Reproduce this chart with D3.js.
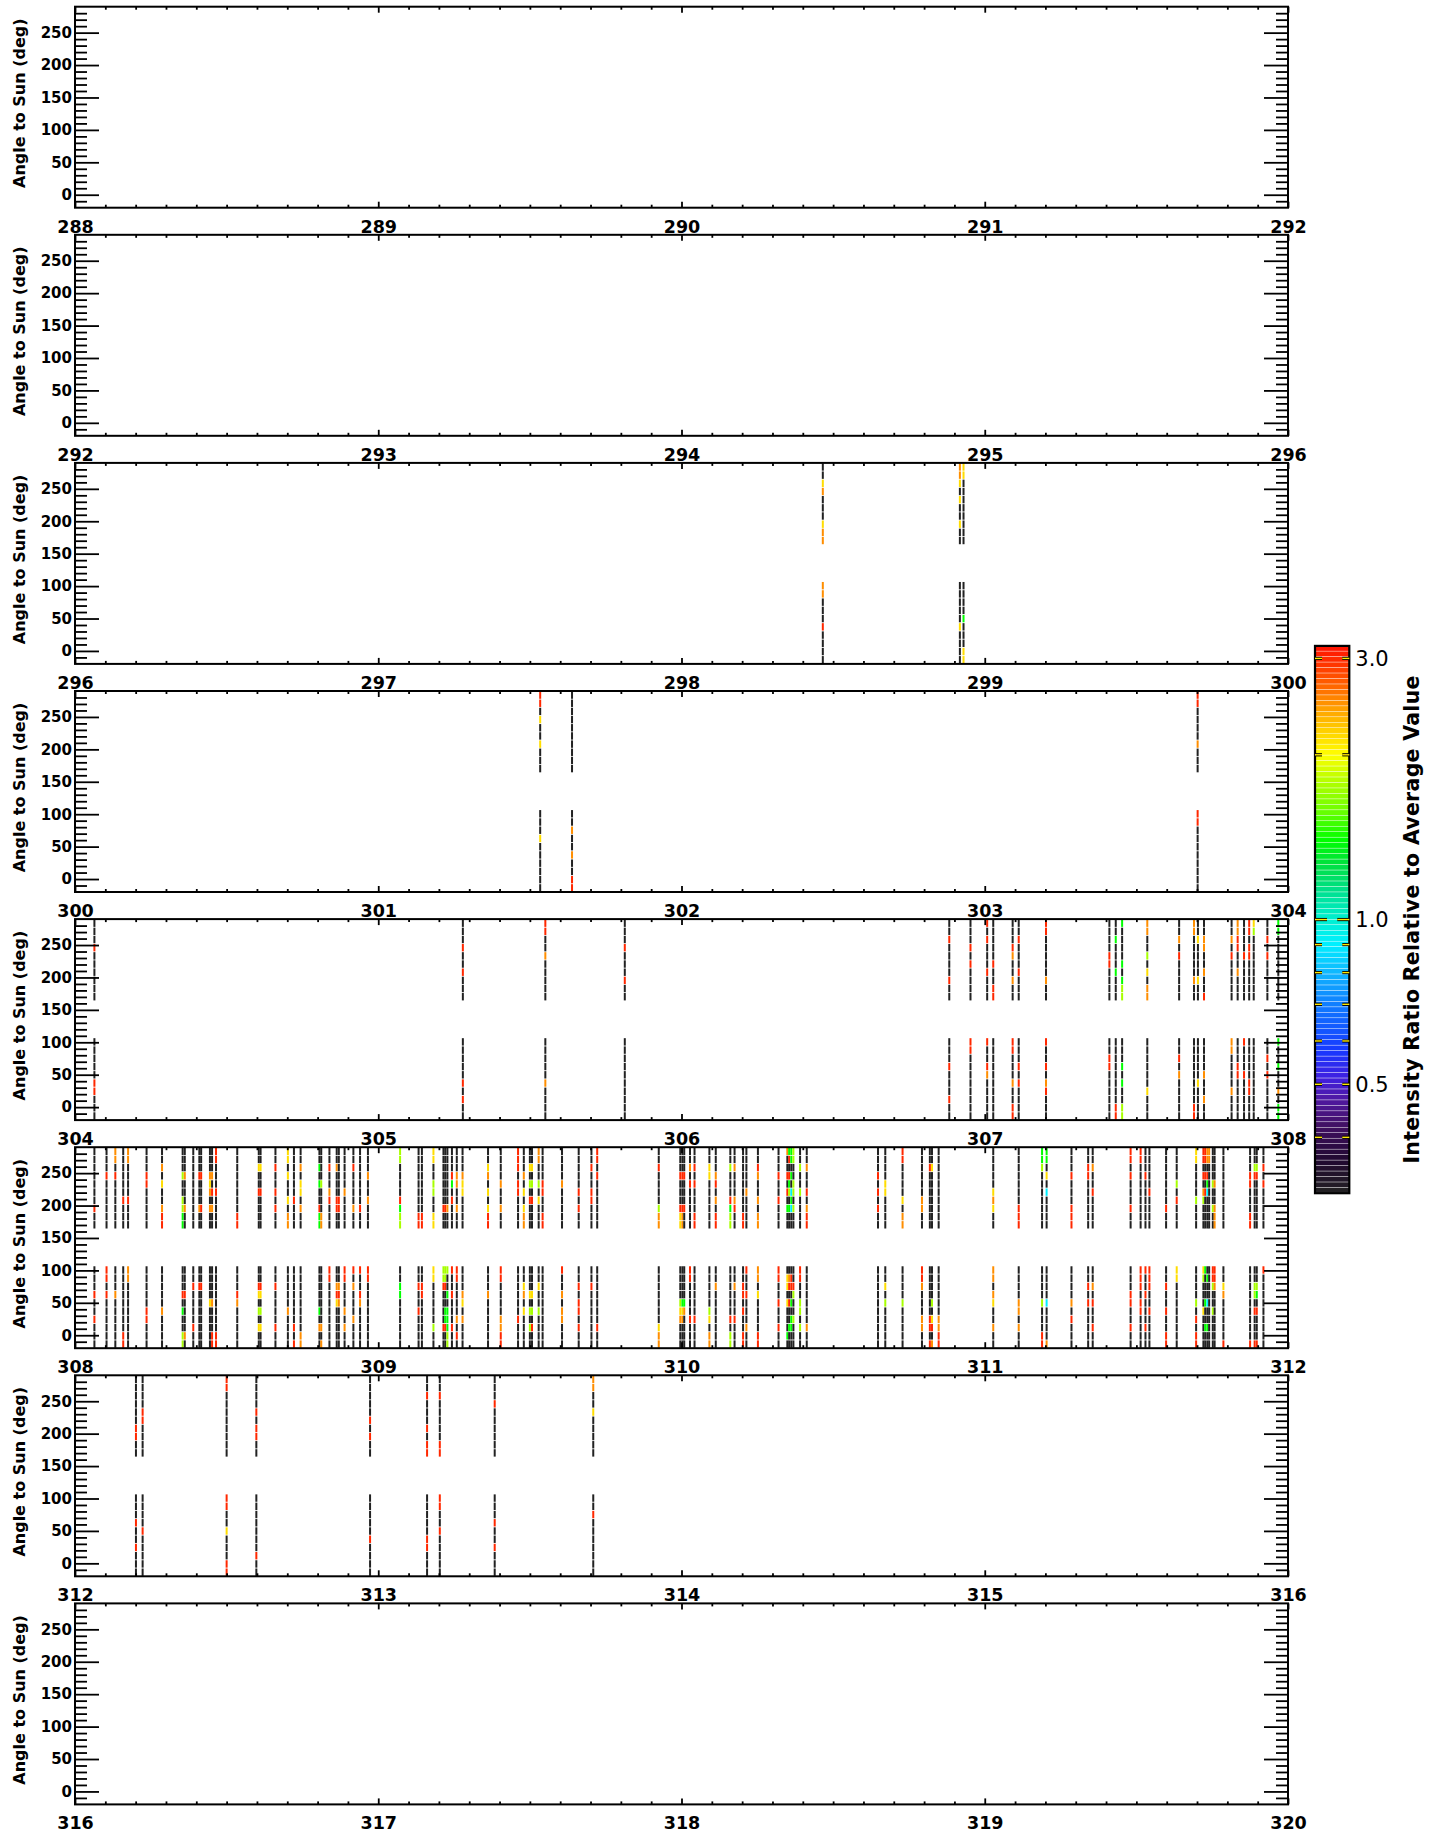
<!DOCTYPE html>
<html>
<head>
<meta charset="utf-8">
<script src="https://cdn.jsdelivr.net/npm/d3@7"></script>
<style>
  body { margin: 0; background: #fff; }
  svg { display: block; }
  .axis text { font-family: "DejaVu Sans", sans-serif; font-weight: bold; fill: #000; }
  .axis line { stroke: #000; stroke-width: 1.8; }
</style>
</head>
<body>
<div id="chart"></div>
<script>
// Global const
const W = 1444, H = 1834;
const plotLeft = 75, plotRight = 1288;
const firstTop = 6.7, panelStep = 228.1, panelH = 201;
const plotW = plotRight - plotLeft;

// day of year at the left edge of each panel (4 days per panel)
const panelStarts = [288, 292, 296, 300, 304, 308, 312, 316];
const angleDomain = [-20, 290];
const angleTicks = [0, 50, 100, 150, 200, 250];

// angle bins (deg), listed top to bottom in each block
const upperAngles = [283.7, 271.1, 258.5, 245.9, 233.3, 220.7, 208.1, 195.5, 182.9, 170.3];
const lowerAngles = [100.65, 87.95, 75.25, 62.55, 49.85, 37.15, 24.45, 11.75, -0.95, -13.65];
const angleStep = 12.65;

// intensity ratio of each cell code ("." = below scale)
const levelValues = {".": 0.25, c: 0.9, g: 1.4, l: 1.75, y: 2.15, o: 2.5, r: 3.0};

// colour bar
const barRange = [Math.pow(10, -0.5), Math.pow(10, 0.5)];
const barTickValues = [3.0, 2.0, 1.0, 0.9, 0.8, 0.7, 0.6, 0.5, 0.4];
const barLabelValues = [3.0, 1.0, 0.5];

// stripes: [day, upper block cells top->bottom, lower block cells top->bottom]
const stripes296 = [
  [298.466, "..yo...yoo", "oo...r...."],
  [298.918, "ooy.y..y..", ".....y...."],
  [298.930, "yy........", "....g...yy"]
];

const stripes300 = [
  [301.534, "rr.y..y...", "...y......"],
  [301.639, "..........", "..o..o..rr"],
  [303.702, "rr....o...", "rr........"]
];

const stripes304 = [
  [304.064, "...r......", ".....rr..."],
  [305.279, "...r..r...", ".....r.r.."],
  [305.551, "rr..o.....", ".....o...."],
  [305.813, "...r...r..", ".........."],
  [306.883, "..r....r..", "...r...r.."],
  [306.953, "...r.r....", "rr........"],
  [307.008, "r.r...r...", "r..ro....."],
  [307.028, ".....r..rr", ".........."],
  [307.092, "...ro..o..", "rr...o..rr"],
  [307.112, "..r...r...", "...r.r...."],
  [307.202, "rr.....o..", "r..r.or..."],
  [307.411, "....rr....", "..rr......"],
  [307.432, "..g...g...", "........rr"],
  [307.453, "g....g.gll", "...g.g..ll"],
  [307.536, "oo..l.y.oo", "......y..."],
  [307.641, "..o.r.....", "..r.o....."],
  [307.690, "oo.....o..", "........rr"],
  [307.703, "..y....y..", ".....y...."],
  [307.723, "..oo..o..r", "....o..o.."],
  [307.814, "..o.r.....", "oo....o..."],
  [307.834, "oorr..o...", "...rr....."],
  [307.855, "....r.....", "r...r....."],
  [307.872, "rr.rr.....", ".....rr..."],
  [307.887, "yl........", ".........."],
  [307.932, "..r.r.....", "..r.r....."],
  [307.968, "gg........", "g..g..o.gg"]
];

const stripes308 = [
  [308.000, "..l..l....", "rrl..glr.."],
  [308.064, ".......r..", "...r..r..."],
  [308.104, "...r......", "rr.r......"],
  [308.133, "oo.r......", "...o......"],
  [308.159, "......r...", "........rr"],
  [308.175, "oo....r...", "oo........"],
  [308.236, "...rr.....", ".....rr..."],
  [308.287, "..o.y..orr", ".....o...."],
  [308.355, "...l..llgg", "...r.g..ll"],
  [308.362, "...o...o..", "...r....o."],
  [308.390, "..........", "..r....r.."],
  [308.410, "...r...o..", "..r......."],
  [308.416, "...r...r..", "..r......."],
  [308.445, "...oyo.o..", "....y....."],
  [308.452, "...o.r.o..", "....o...rr"],
  [308.465, "rr...r....", "........rr"],
  [308.535, "........rr", "...ro....."],
  [308.606, "..y..r....", "..ry.l.y.."],
  [308.612, "..y..r....", "..ry.l.y.."],
  [308.661, "..r..r.r..", "..r....r.."],
  [308.702, "yy.y..y.oo", ".....o...."],
  [308.722, "......r...", ".......r.r"],
  [308.744, "..o.yy.o..", "........oo"],
  [308.806, "..g.g..rgg", ".....g.o.."],
  [308.812, "....l...oo", ".......o.o"],
  [308.839, "..r..or...", "rr........"],
  [308.863, "..o...rr..", "..ory....."],
  [308.870, "......rr..", "..oro....."],
  [308.889, ".....o....", "rr...o.o.."],
  [308.918, "..r....o..", "r.o...o..."],
  [308.940, ".......r..", "r..ro....."],
  [308.966, "...o..o...", "rr........"],
  [309.072, "ll....rgll", "..gg......"],
  [309.133, "........rr", "..r..r...."],
  [309.144, "........rr", "..rr......"],
  [309.182, "yy..ll..yy", "yy.....l.."],
  [309.215, ".......r..", "llr....r.."],
  [309.221, ".......r..", "llr..ggr.."],
  [309.228, ".......o..", "l..g.gggll"],
  [309.243, "...rg.r...", "r..r...r.."],
  [309.259, "...oo..o..", "rr....o.r."],
  [309.278, "...oyy....", "...oy.o..."],
  [309.362, "..yo.y.yrr", "...o......"],
  [309.404, "....o..o..", "rr....oorr"],
  [309.461, "rrr.rr....", "......r..."],
  [309.480, "...o.y.yoo", "..yo.y...."],
  [309.500, "..y.l.r...", "...y.l.l.."],
  [309.507, "..y.l.r...", "...y.l.r.."],
  [309.529, "oo..l.y...", "..y..l...."],
  [309.542, "....rr..rr", ".........."],
  [309.606, "....o.....", "r..o.oo..."],
  [309.661, ".....r.r..", "..r.rr.r.."],
  [309.703, "..r..rr...", "..r......."],
  [309.722, "rr.r......", ".......r.."],
  [309.925, "..r....loo", ".......yoo"],
  [309.996, "...r...ryy", "....lyo..."],
  [310.003, "...r...roo", "....gyo..."],
  [310.009, "...r...r..", "....go...."],
  [310.028, "..o.r.....", "rr....r..."],
  [310.043, "..r.r...rr", "......r..."],
  [310.092, "..yy......", ".....ly.oo"],
  [310.113, "...or.o.rr", "..o......."],
  [310.161, "..l...rgll", "......r.ll"],
  [310.175, "..o...or..", "..o...r..."],
  [310.203, "........rr", "..rr.r..rr"],
  [310.214, ".....o....", "r..r...o.."],
  [310.252, "..ro..o.oo", "oo.y....rr"],
  [310.320, "...r..r...", "rr..r..r.."],
  [310.349, "o..r.r.g..", ".yy.y...g."],
  [310.355, "gr.rgl.g..", ".or.r..g.."],
  [310.362, "gg.g.cgc..", ".rr.g.gg.."],
  [310.369, "ll..ll.l..", "..rl..l..."],
  [310.391, "..l..l....", "rr..ll.l.."],
  [310.413, "..o..r.orr", ".......o.."],
  [310.648, "...r.r.r..", ".........."],
  [310.672, "....yy....", "..y.l....."],
  [310.729, "rr....y.oo", "....l....."],
  [310.793, "......oo..", "rro...oo.."],
  [310.819, "..r.......", "......rr.r"],
  [310.826, "..y.......", "....l.yr.o"],
  [310.848, "..........", "......oorr"],
  [311.028, ".....yoy..", "oo.oy..o.."],
  [311.112, ".......rrr", "....oo.o.."],
  [311.189, "ggl.......", "....l...rr"],
  [311.204, "gg.y.c....", "....c....o"],
  [311.286, "...r...rrr", "....o.r..."],
  [311.341, "..rr......", "..r.r....."],
  [311.356, "..o..r....", "..o.r..r.."],
  [311.481, "rr.r...r..", "...rr..r.."],
  [311.514, "rr........", "rrr.rr...."],
  [311.530, "...r......", "r..r...r.."],
  [311.543, ".....r....", "rrr..r...."],
  [311.598, ".......r..", "..r..r..rr"],
  [311.633, "....l.r...", "yy........"],
  [311.697, "yy....l...", "....l.r.rr"],
  [311.721, "rr.r.ol...", "yl...y...."],
  [311.727, "rr.r.r....", "g...g..g.."],
  [311.734, "oo.rgc....", ".g..c..g.."],
  [311.740, "oo........", ".........."],
  [311.752, "....l..l..", "rrl..l...."],
  [311.758, "....o..ooo", "rro......."],
  [311.787, "..........", "..yo.....r"],
  [311.875, "...rr...rr", ".........r"],
  [311.890, "..lr......", "..ll.r...r"],
  [311.897, "..lr......", "..lg.r...r"],
  [311.919, "..r.r.....", "r........."]
];

const stripes312 = [
  [312.201, "......rr..", "...r..r..."],
  [312.223, "....rr....", "....r....."],
  [312.500, "rr........", "rr..y...rr"],
  [312.598, "....r.rr..", ".......r.."],
  [312.973, ".....r.r..", ".....r...."],
  [313.161, "..r...r.rr", ".....rr..."],
  [313.203, "..r.....rr", "rr..r....."],
  [313.384, "...r......", "...r..r..."],
  [313.709, "oo..y.....", "..r......."]
];

const stripesByPanel = [[], [], stripes296, stripes300, stripes304, stripes308, stripes312, []];

// Rainbow colour table (black -> purple -> blue -> cyan -> green -> yellow -> red)
const rainbowStops = [0, 0.06, 0.12, 0.17, 0.21, 0.26, 0.33, 0.40, 0.455, 0.50, 0.55, 0.60, 0.645, 0.70, 0.75, 0.80, 0.845, 0.885, 0.93, 0.97, 1];
const rainbowColors = ["#222222", "#200830", "#401060", "#5018a0", "#4020e0", "#1838ff", "#1070ff", "#10b4ff", "#00f0ff", "#00f0d0",
                       "#00e090", "#00e040", "#00ff00", "#70ff00", "#b0ff00", "#ffff00", "#ffd000", "#ffa000", "#ff6000", "#ff3000", "#ff1000"];
const rainbow = d3.scaleLinear().domain(rainbowStops).range(rainbowColors).clamp(true);
const color = d3.scaleSequentialLog(rainbow).domain(barRange).clamp(true);

const svg = d3.select("#chart")
  .append("svg")
    .attr("width", W)
    .attr("height", H);

// Draw one panel
function draw_panel(i) {
  const start = panelStarts[i];
  const top = firstTop + i * panelStep;

  const x = d3.scaleLinear().domain([start, start + 4]).range([0, plotW]);
  const y = d3.scaleLinear().domain(angleDomain).range([panelH, 0]);

  const g = svg.append("g")
    .attr("transform", "translate(" + plotLeft + "," + top + ")");

  g.append("clipPath")
    .attr("id", "clip" + i)
    .append("rect")
      .attr("width", plotW)
      .attr("height", panelH);

  // cells of each stripe
  const cells = [];
  stripesByPanel[i].forEach(function(s) {
    for (let k = 0; k < 10; k++) {
      cells.push({day: s[0], angle: upperAngles[k], v: levelValues[s[1][k]]});
      cells.push({day: s[0], angle: lowerAngles[k], v: levelValues[s[2][k]]});
    }
  });

  g.append("g")
    .attr("clip-path", "url(#clip" + i + ")")
    .selectAll("rect")
    .data(cells)
    .enter()
    .append("rect")
      .attr("x", (d) => x(d.day) - 1)
      .attr("width", 2)
      .attr("y", (d) => y(d.angle + angleStep / 2) + 0.4)
      .attr("height", (d) => y(d.angle - angleStep / 2) - y(d.angle + angleStep / 2) - 0.8)
      .style("fill", (d) => color(d.v));

  const majorX = d3.range(start, start + 4.001, 1);
  const minorX = d3.range(1, 40).map((k) => start + k / 10).filter((v, k) => (k + 1) % 10 !== 0);
  const minorY = d3.range(-10, 290, 10).filter((v) => v % 50 !== 0);

  // bottom axis with labels
  g.append("g")
    .attr("class", "axis")
    .attr("transform", "translate(0," + panelH + ")")
    .call(d3.axisBottom(x).tickValues(majorX).tickSize(-6).tickSizeOuter(0).tickPadding(12.6).tickFormat(d3.format("d")))
    .call((a) => a.select(".domain").remove())
    .selectAll("text")
      .attr("font-family", "Liberation Sans, Arial, sans-serif")
      .attr("font-size", 17.5);

  g.append("g")
    .attr("class", "axis")
    .attr("transform", "translate(0," + panelH + ")")
    .call(d3.axisBottom(x).tickValues(minorX).tickSize(-3).tickSizeOuter(0).tickFormat(""))
    .call((a) => a.select(".domain").remove());

  // top axis
  g.append("g")
    .attr("class", "axis")
    .call(d3.axisTop(x).tickValues(majorX).tickSize(-6).tickSizeOuter(0).tickFormat(""))
    .call((a) => a.select(".domain").remove());

  g.append("g")
    .attr("class", "axis")
    .call(d3.axisTop(x).tickValues(minorX).tickSize(-3).tickSizeOuter(0).tickFormat(""))
    .call((a) => a.select(".domain").remove());

  // left axis with labels
  g.append("g")
    .attr("class", "axis")
    .call(d3.axisLeft(y).tickValues(angleTicks).tickSize(-24).tickSizeOuter(0).tickPadding(3).tickFormat(d3.format("d")))
    .call((a) => a.select(".domain").remove())
    .selectAll("text")
      .attr("font-size", 15);

  g.append("g")
    .attr("class", "axis")
    .call(d3.axisLeft(y).tickValues(minorY).tickSize(-12).tickSizeOuter(0).tickFormat(""))
    .call((a) => a.select(".domain").remove());

  // right axis
  g.append("g")
    .attr("class", "axis")
    .attr("transform", "translate(" + plotW + ",0)")
    .call(d3.axisRight(y).tickValues(angleTicks).tickSize(-24).tickSizeOuter(0).tickFormat(""))
    .call((a) => a.select(".domain").remove());

  g.append("g")
    .attr("class", "axis")
    .attr("transform", "translate(" + plotW + ",0)")
    .call(d3.axisRight(y).tickValues(minorY).tickSize(-12).tickSizeOuter(0).tickFormat(""))
    .call((a) => a.select(".domain").remove());

  // frame
  g.append("rect")
    .attr("width", plotW)
    .attr("height", panelH)
    .style("fill", "none")
    .style("stroke", "#000")
    .style("stroke-width", 2);

  // Y axis legend
  svg.append("text")
    .attr("transform", "translate(25," + (top + panelH / 2 - 4) + ")rotate(-90)")
    .attr("text-anchor", "middle")
    .attr("font-family", "DejaVu Sans, sans-serif")
    .attr("font-weight", "bold")
    .attr("font-size", 16)
    .text("Angle to Sun (deg)");
}

// Draw function for the colour bar
function draw_colorbar() {
  const bx = 1315, bw = 34.3, btop = 645.9, bbottom = 1193.2;
  const yb = d3.scaleLog().domain(barRange).range([bbottom, btop]);

  const bands = d3.range(0, 100).map((k) => Math.pow(10, -0.5 + k / 100));
  svg.append("g")
    .selectAll("rect")
    .data(bands)
    .enter()
    .append("rect")
      .attr("x", bx)
      .attr("width", bw)
      .attr("y", (d) => yb(d * Math.pow(10, 0.01)))
      .attr("height", (d) => yb(d) - yb(d * Math.pow(10, 0.01)) - 0.5)
      .style("fill", (d) => color(d * Math.pow(10, 0.005)));

  svg.append("rect")
    .attr("x", bx)
    .attr("y", btop)
    .attr("width", bw)
    .attr("height", bbottom - btop)
    .style("fill", "none")
    .style("stroke", "#000")
    .style("stroke-width", 2.2);

  // tick marks on both sides
  const ticks = svg.append("g");
  barTickValues.forEach(function(v) {
    const len = v === 1.0 ? 12 : 7;
    [[bx, bx + len], [bx + bw, bx + bw - len]].forEach(function(p) {
      ticks.append("line")
        .attr("x1", p[0]).attr("x2", p[1])
        .attr("y1", yb(v)).attr("y2", yb(v))
        .style("stroke", "#000").style("stroke-width", 3.2);
      ticks.append("line")
        .attr("x1", p[0]).attr("x2", p[1])
        .attr("y1", yb(v)).attr("y2", yb(v))
        .style("stroke", "#ffe800").style("stroke-width", 1.4);
    });
  });

  svg.append("g")
    .selectAll("text")
    .data(barLabelValues)
    .enter()
    .append("text")
      .attr("x", bx + bw + 6)
      .attr("y", (d) => yb(d))
      .attr("dy", "0.36em")
      .attr("font-family", "DejaVu Sans, sans-serif")
      .attr("font-size", 21)
      .text(d3.format(".1f"));

  // colour bar legend
  svg.append("text")
    .attr("transform", "translate(1419," + ((btop + bbottom) / 2) + ")rotate(-90)")
    .attr("text-anchor", "middle")
    .attr("font-family", "DejaVu Sans, sans-serif")
    .attr("font-weight", "bold")
    .attr("font-size", 20.5)
    .attr("textLength", 488)
    .attr("lengthAdjust", "spacing")
    .text("Intensity Ratio Relative to Average Value");
}

panelStarts.forEach((s, i) => draw_panel(i));
draw_colorbar();
</script>
</body>
</html>
